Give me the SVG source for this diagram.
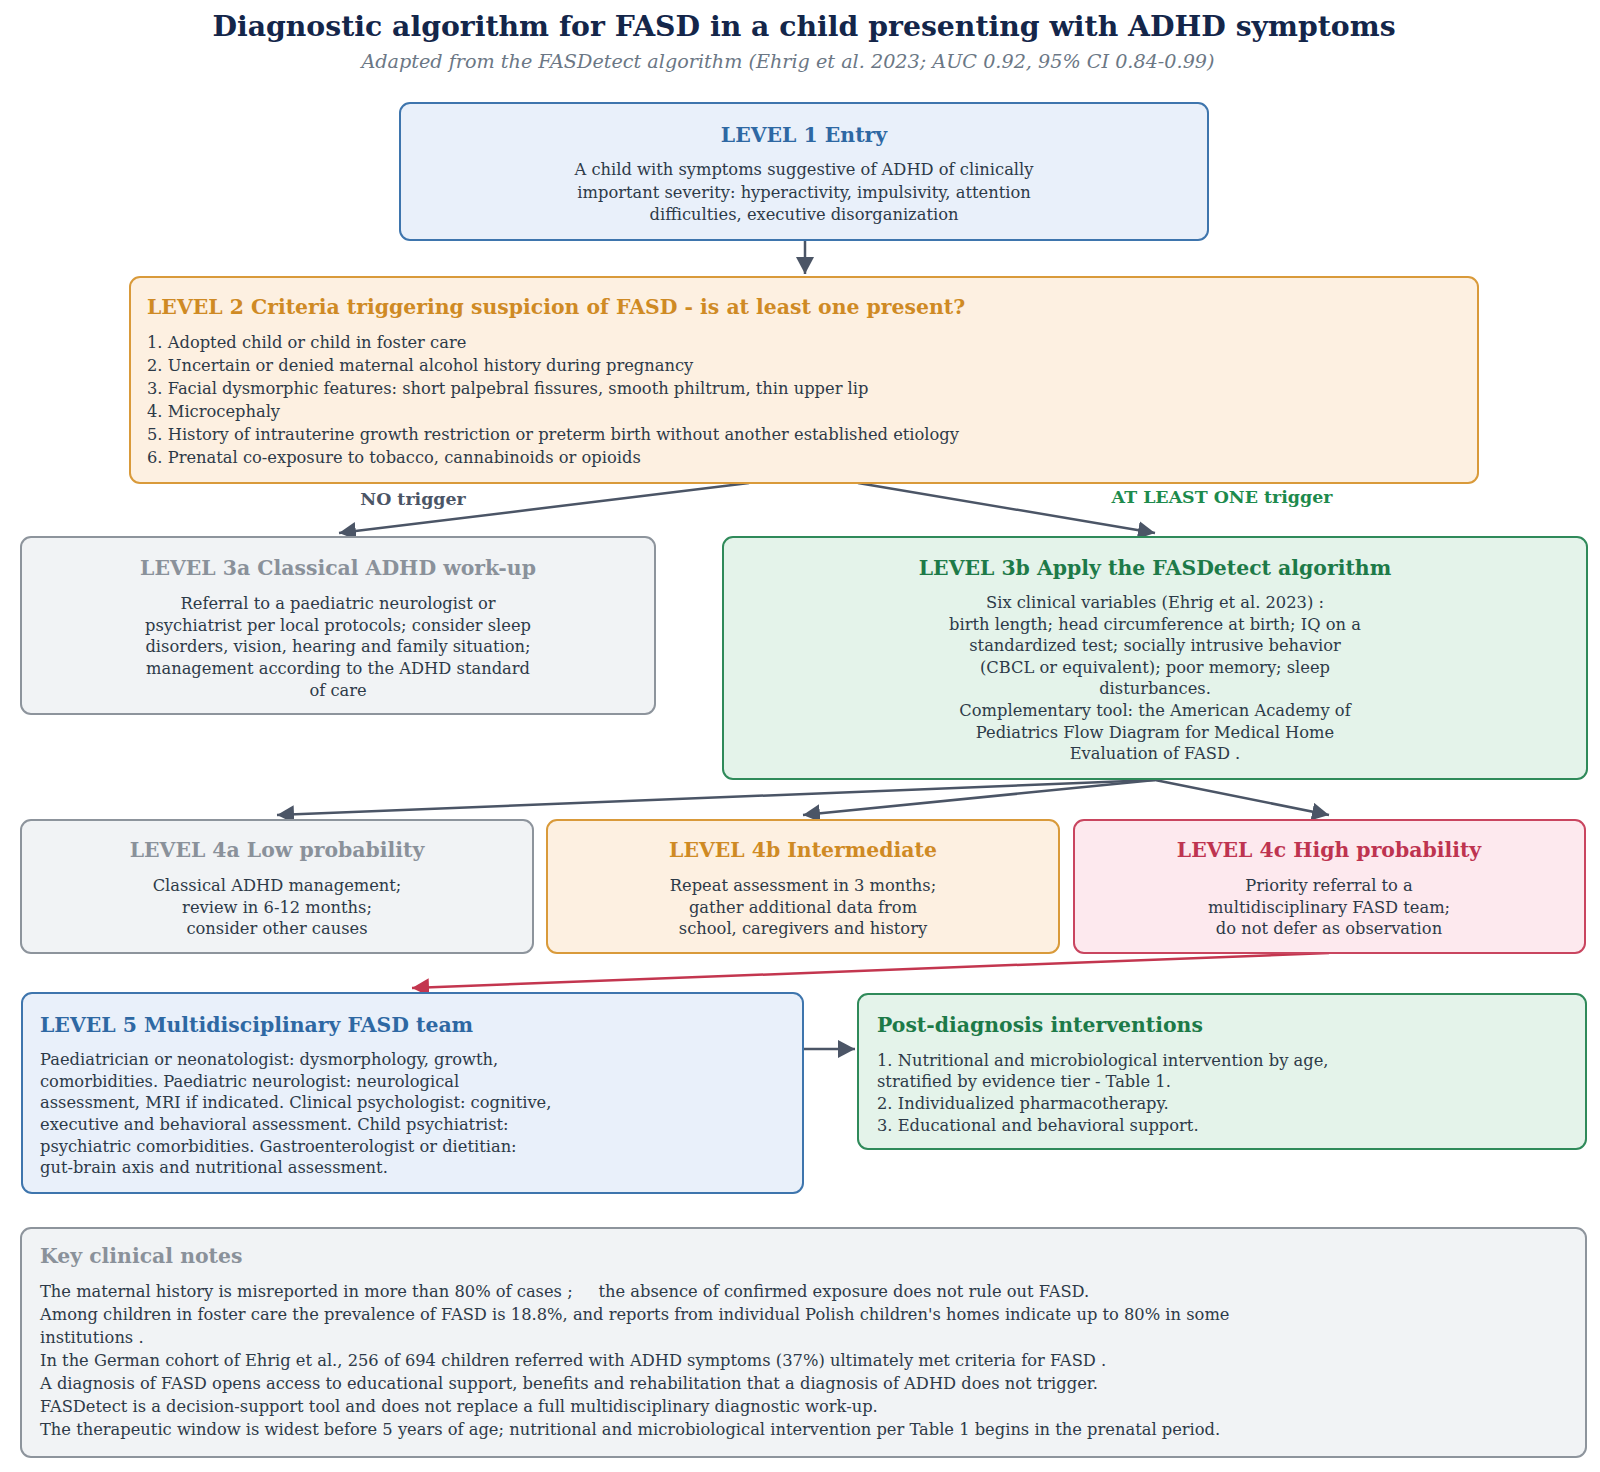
<svg xmlns="http://www.w3.org/2000/svg" width="1600" height="1472" viewBox="0 0 1600 1472">
<style>
text{font-family:"DejaVu Serif","Liberation Serif",serif;}
.ttl{font-size:28.3px;font-weight:bold;fill:#14264a;text-anchor:middle;}
.sub{font-size:19.2px;font-style:italic;fill:#6b7785;text-anchor:middle;}
.h{font-size:20.4px;font-weight:bold;}
.b{font-size:16.3px;fill:#2d3a48;}
.c{text-anchor:middle;}
.lbl{font-size:17.4px;font-weight:bold;text-anchor:middle;}
.box{stroke-width:2;}
.blue{fill:#e9f0fa;stroke:#3e75ad;}
.orange{fill:#fdf0e1;stroke:#d99a3a;}
.gray{fill:#f1f3f5;stroke:#8d949c;}
.green{fill:#e4f3ea;stroke:#2f8a5a;}
.red{fill:#fde9ee;stroke:#c9455f;}
.tblue{fill:#2e68a3;}
.torange{fill:#cf8a24;}
.tgray{fill:#8a919a;}
.tgreen{fill:#1d7a48;}
.tred{fill:#be3450;}
.conn{fill:none;stroke:#4b5566;stroke-width:2.5;}
.connr{fill:none;stroke:#c3364f;stroke-width:2.5;}
</style>
<defs>
<marker id="ah" markerUnits="userSpaceOnUse" markerWidth="18" markerHeight="18" refX="17" refY="9" orient="auto">
<path d="M0,0 L17,9 L0,18 z" fill="#4b5566"/>
</marker>
<marker id="ahr" markerUnits="userSpaceOnUse" markerWidth="18" markerHeight="18" refX="17" refY="9" orient="auto">
<path d="M0,0 L17,9 L0,18 z" fill="#c3364f"/>
</marker>
</defs>
<rect width="1600" height="1472" fill="#ffffff"/>

<g id="header">
<text class="ttl" x="804" y="36">Diagnostic algorithm for FASD in a child presenting with ADHD symptoms</text>
<text class="sub" x="788" y="68">Adapted from the FASDetect algorithm (Ehrig et al. 2023; AUC 0.92, 95% CI 0.84-0.99)</text>
</g>

<g id="connectors">
<path class="conn" d="M805,240 L805,274" marker-end="url(#ah)"/>
<path class="conn" d="M749,483 L339,533" marker-end="url(#ah)"/>
<path class="conn" d="M858,483 L1155,533" marker-end="url(#ah)"/>
<path class="conn" d="M1155,780 L277,815" marker-end="url(#ah)"/>
<path class="conn" d="M1155,780 L803,815" marker-end="url(#ah)"/>
<path class="conn" d="M1155,780 L1329,815" marker-end="url(#ah)"/>
<path class="connr" d="M1329,953 L412,988" marker-end="url(#ahr)"/>
<path class="conn" d="M803,1049 L855,1049" marker-end="url(#ah)"/>
<text class="lbl" x="413" y="505" fill="#4b5566">NO trigger</text>
<text class="lbl" x="1222" y="503" fill="#1d8a4c">AT LEAST ONE trigger</text>
</g>

<g id="level1">
<rect class="box blue" x="400" y="103" width="808" height="137" rx="10"/>
<text class="h tblue c" x="804" y="142">LEVEL 1 Entry</text>
<text class="b c" x="804" y="175">A child with symptoms suggestive of ADHD of clinically</text>
<text class="b c" x="804" y="198">important severity: hyperactivity, impulsivity, attention</text>
<text class="b c" x="804" y="220">difficulties, executive disorganization</text>
</g>

<g id="level2">
<rect class="box orange" x="130" y="277" width="1348" height="206" rx="10"/>
<text class="h torange" x="147" y="314">LEVEL 2 Criteria triggering suspicion of FASD - is at least one present?</text>
<text class="b" x="147" y="348">1. Adopted child or child in foster care</text>
<text class="b" x="147" y="371">2. Uncertain or denied maternal alcohol history during pregnancy</text>
<text class="b" x="147" y="394">3. Facial dysmorphic features: short palpebral fissures, smooth philtrum, thin upper lip</text>
<text class="b" x="147" y="417">4. Microcephaly</text>
<text class="b" x="147" y="440">5. History of intrauterine growth restriction or preterm birth without another established etiology</text>
<text class="b" x="147" y="463">6. Prenatal co-exposure to tobacco, cannabinoids or opioids</text>
</g>

<g id="level3a">
<rect class="box gray" x="21" y="537" width="634" height="177" rx="10"/>
<text class="h tgray c" x="338" y="575">LEVEL 3a Classical ADHD work-up</text>
<text class="b c" x="338" y="609">Referral to a paediatric neurologist or</text>
<text class="b c" x="338" y="631">psychiatrist per local protocols; consider sleep</text>
<text class="b c" x="338" y="652">disorders, vision, hearing and family situation;</text>
<text class="b c" x="338" y="674">management according to the ADHD standard</text>
<text class="b c" x="338" y="696">of care</text>
</g>

<g id="level3b">
<rect class="box green" x="723" y="537" width="864" height="242" rx="10"/>
<text class="h tgreen c" x="1155" y="575">LEVEL 3b Apply the FASDetect algorithm</text>
<text class="b c" x="1155" y="608">Six clinical variables (Ehrig et al. 2023) :</text>
<text class="b c" x="1155" y="630">birth length; head circumference at birth; IQ on a</text>
<text class="b c" x="1155" y="651">standardized test; socially intrusive behavior</text>
<text class="b c" x="1155" y="673">(CBCL or equivalent); poor memory; sleep</text>
<text class="b c" x="1155" y="694">disturbances.</text>
<text class="b c" x="1155" y="716">Complementary tool: the American Academy of</text>
<text class="b c" x="1155" y="738">Pediatrics Flow Diagram for Medical Home</text>
<text class="b c" x="1155" y="759">Evaluation of FASD .</text>
</g>

<g id="level4a">
<rect class="box gray" x="21" y="820" width="512" height="133" rx="10"/>
<text class="h tgray c" x="277" y="857">LEVEL 4a Low probability</text>
<text class="b c" x="277" y="891">Classical ADHD management;</text>
<text class="b c" x="277" y="913">review in 6-12 months;</text>
<text class="b c" x="277" y="934">consider other causes</text>
</g>

<g id="level4b">
<rect class="box orange" x="547" y="820" width="512" height="133" rx="10"/>
<text class="h torange c" x="803" y="857">LEVEL 4b Intermediate</text>
<text class="b c" x="803" y="891">Repeat assessment in 3 months;</text>
<text class="b c" x="803" y="913">gather additional data from</text>
<text class="b c" x="803" y="934">school, caregivers and history</text>
</g>

<g id="level4c">
<rect class="box red" x="1074" y="820" width="511" height="133" rx="10"/>
<text class="h tred c" x="1329" y="857">LEVEL 4c High probability</text>
<text class="b c" x="1329" y="891">Priority referral to a</text>
<text class="b c" x="1329" y="913">multidisciplinary FASD team;</text>
<text class="b c" x="1329" y="934">do not defer as observation</text>
</g>

<g id="level5">
<rect class="box blue" x="22" y="993" width="781" height="200" rx="10"/>
<text class="h tblue" x="40" y="1032">LEVEL 5 Multidisciplinary FASD team</text>
<text class="b" x="40" y="1065">Paediatrician or neonatologist: dysmorphology, growth,</text>
<text class="b" x="40" y="1087">comorbidities. Paediatric neurologist: neurological</text>
<text class="b" x="40" y="1108">assessment, MRI if indicated. Clinical psychologist: cognitive,</text>
<text class="b" x="40" y="1130">executive and behavioral assessment. Child psychiatrist:</text>
<text class="b" x="40" y="1152">psychiatric comorbidities. Gastroenterologist or dietitian:</text>
<text class="b" x="40" y="1173">gut-brain axis and nutritional assessment.</text>
</g>

<g id="postdiagnosis">
<rect class="box green" x="858" y="994" width="728" height="155" rx="10"/>
<text class="h tgreen" x="877" y="1032">Post-diagnosis interventions</text>
<text class="b" x="877" y="1066">1. Nutritional and microbiological intervention by age,</text>
<text class="b" x="877" y="1087">stratified by evidence tier - Table 1.</text>
<text class="b" x="877" y="1109">2. Individualized pharmacotherapy.</text>
<text class="b" x="877" y="1131">3. Educational and behavioral support.</text>
</g>

<g id="notes">
<rect class="box gray" x="21" y="1228" width="1565" height="229" rx="10"/>
<text class="h tgray" x="40" y="1263">Key clinical notes</text>
<text class="b" x="40" y="1297" xml:space="preserve">The maternal history is misreported in more than 80% of cases ;     the absence of confirmed exposure does not rule out FASD.</text>
<text class="b" x="40" y="1320">Among children in foster care the prevalence of FASD is 18.8%, and reports from individual Polish children's homes indicate up to 80% in some</text>
<text class="b" x="40" y="1343">institutions .</text>
<text class="b" x="40" y="1366">In the German cohort of Ehrig et al., 256 of 694 children referred with ADHD symptoms (37%) ultimately met criteria for FASD .</text>
<text class="b" x="40" y="1389">A diagnosis of FASD opens access to educational support, benefits and rehabilitation that a diagnosis of ADHD does not trigger.</text>
<text class="b" x="40" y="1412">FASDetect is a decision-support tool and does not replace a full multidisciplinary diagnostic work-up.</text>
<text class="b" x="40" y="1435">The therapeutic window is widest before 5 years of age; nutritional and microbiological intervention per Table 1 begins in the prenatal period.</text>
</g>
</svg>
